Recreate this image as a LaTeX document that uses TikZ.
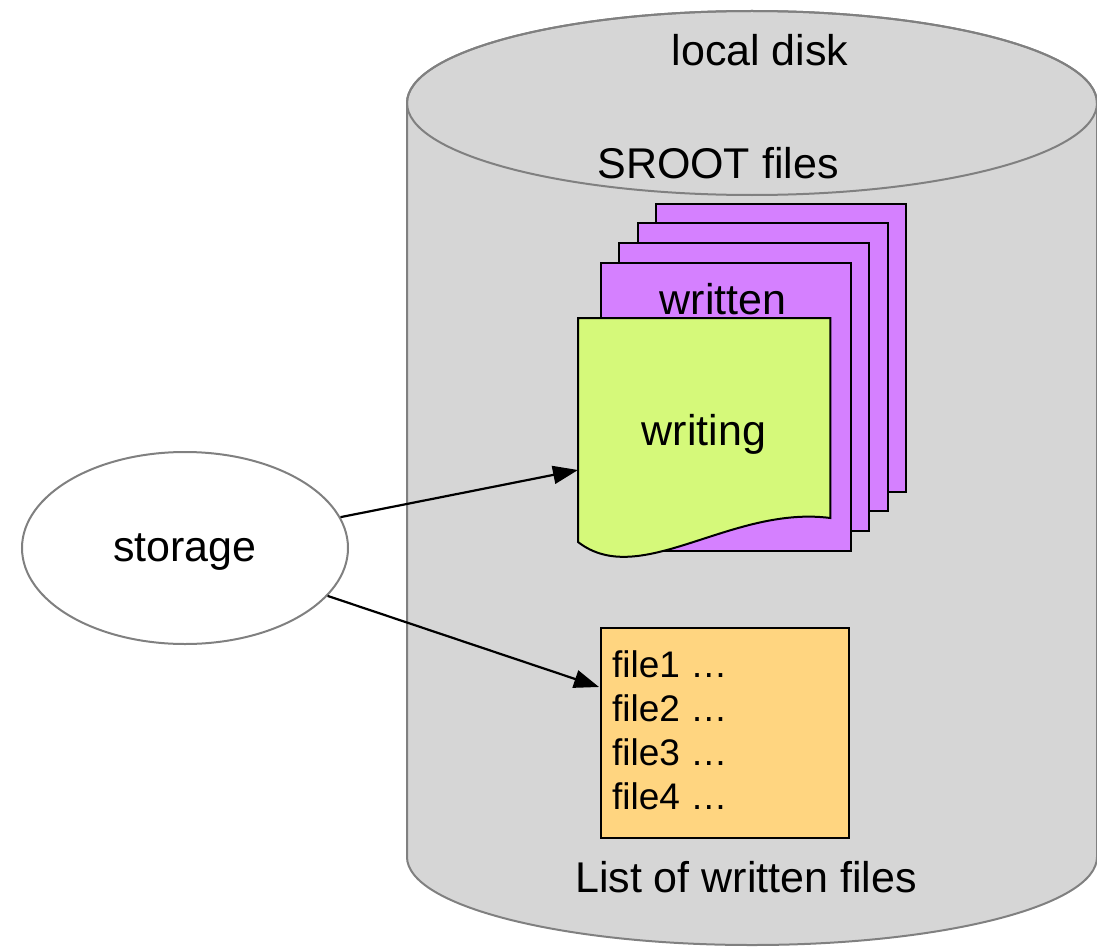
\documentclass[tikz,border=0pt]{standalone}
\usepackage{fontspec}
\setmainfont{Liberation Sans}
\usetikzlibrary{shapes.geometric,arrows.meta,calc}

\definecolor{diskgrey}{RGB}{214,214,214}
\definecolor{diskedge}{RGB}{128,128,128}
\definecolor{pagepurple}{RGB}{213,128,255}
\definecolor{pagegreen}{RGB}{213,249,122}
\definecolor{listorange}{RGB}{255,213,128}

\newcommand\dgfont{\fontsize{43}{50}\selectfont}
\newcommand\dglist{\fontsize{37}{44}\selectfont}

\begin{document}
\begin{tikzpicture}[x=1pt,y=-1pt,
  label text/.style={font=\dgfont, inner sep=0pt, anchor=base},
  page/.style={draw=black, line width=2pt, fill=pagepurple, inner sep=0pt,
    minimum width=250pt, minimum height=288pt, anchor=north west},
  link/.style={draw=black, line width=2.2pt,
    -{Triangle[length=25pt,width=18pt]}},
  list line/.style={font=\dglist, inner sep=0pt, anchor=base west}]

  \useasboundingbox (0,0) rectangle (1097,947);

  % disk body: side walls and lower rim
  \path[fill=diskgrey, draw=diskedge, line width=2pt]
    (407,103) -- (407,857)
    arc[start angle=180, end angle=0, x radius=345, y radius=88]
    -- (1097,103)
    arc[start angle=0, end angle=-180, x radius=345, y radius=92] -- cycle;
  % disk top
  \draw[diskedge, line width=2pt] (752,103) ellipse[x radius=345, y radius=92];

  \node[label text] (disk) at (760,66) {local disk};
  \node[label text] (sroot) at (718,178) {SROOT files};

  % stack of finished files
  \node[page] (p4) at (655,203) {};
  \node[page] (p3) at (637,222) {};
  \node[page] (p2) at (618,242) {};
  \node[page] (p1) at (600,262) {};
  \node[label text] (written) at (723,314) {written};

  % file being written (document shape with wavy bottom)
  \node[inner sep=0pt, minimum width=252pt, minimum height=224pt,
        anchor=north west] (doc) at (578,318) {};
  \filldraw[fill=pagegreen, draw=black, line width=2pt]
    (doc.north west) -- (doc.north east) -- ($(doc.north east)+(0,200)$)
    .. controls ($(doc.north east)+(-100,187)$) and ($(doc.north west)+(62,272)$)
    .. ($(doc.north west)+(0,224)$) -- cycle;
  \node[label text] (writing) at (704,445) {writing};

  % list of written files
  \node[draw=black, line width=2pt, fill=listorange, inner sep=0pt,
        minimum width=248pt, minimum height=210pt, anchor=north west]
        (list) at (600,627) {};
  \node[list line] (f1) at (612,677) {file1 …};
  \node[list line] (f2) at (612,721) {file2 …};
  \node[list line] (f3) at (612,765) {file3 …};
  \node[list line] (f4) at (612,809) {file4 …};
  \node[label text] (listlabel) at (746,892) {List of written files};

  % storage process
  \node[ellipse, draw=diskedge, line width=2pt, fill=white,
        minimum width=326pt, minimum height=192pt, font=\dgfont,
        text depth=0pt] (storage) at (185,548) {storage};

  \coordinate (docin) at (578,470);
  \coordinate (listin) at (599,687);
  \draw[link] (storage) -- (docin);
  \draw[link] (storage) -- (listin);
\end{tikzpicture}
\end{document}
